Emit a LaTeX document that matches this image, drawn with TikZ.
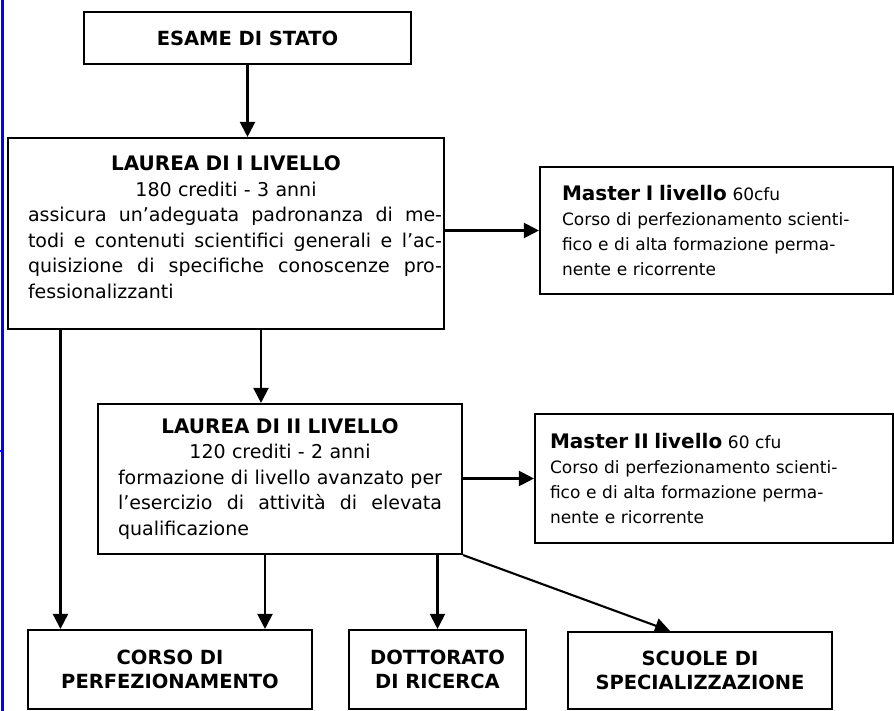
\documentclass[tikz,border=0pt]{standalone}
\usepackage{fontspec}
\setmainfont{DejaVu Sans}
\usepackage{tikz}
\usetikzlibrary{arrows.meta}
\newcommand{\sizebody}{\fontsize{19pt}{25.5pt}\selectfont}
\newcommand{\sizemaster}{\fontsize{17pt}{25pt}\selectfont}
\newcommand{\sizehead}{\fontsize{20pt}{25.5pt}\selectfont\bfseries}
\newcommand{\jline}[2]{{\spaceskip=\fontdimen2\font plus 1fil\relax\makebox[#1][s]{#2}}}
\tikzset{
    common/.style={draw, rectangle, line width=2.1pt, inner sep=0pt, font=\sizebody},
    block/.style={common, align=center, font=\fontsize{19.5pt}{25.5pt}\selectfont\bfseries},
    degree/.style={common, align=left},
    master/.style={common, align=left, font=\sizemaster},
    outcome/.style={common, align=center, font=\fontsize{19.5pt}{24pt}\selectfont\bfseries, minimum height=79pt},
    link/.style={line width=2.1pt, -{Triangle[length=15pt, width=15pt]}},
    margin/.style={draw=blue, line width=2.6pt}
}
\begin{document}
\begin{tikzpicture}[x=1pt, y=-1pt]
    \useasboundingbox (0,0) rectangle (894,711);
    \draw[margin] (2.6,0) -- (2.6,711) (0,451) -- (2.6,451);

    \node[block, minimum width=327pt, minimum height=52pt] (esame) at (247.5,38) {ESAME DI STATO};

    \node[degree, text width=432pt, inner xsep=2pt, minimum height=191pt] (laurea1) at (226,233.5) {%
        \makebox[\linewidth]{\sizehead LAUREA DI I LIVELLO}\\
        \makebox[\linewidth]{180 crediti - 3 anni}\\
        \hspace*{18pt}\jline{414pt}{assicura un’adeguata padronanza di me-}\\
        \hspace*{18pt}\jline{414pt}{todi e contenuti scientifici generali e l’ac-}\\
        \hspace*{18pt}\jline{414pt}{quisizione di specifiche conoscenze pro-}\\
        \hspace*{18pt}fessionalizzanti\rule[-13pt]{0pt}{13pt}};

    \node[master, text width=309pt, inner xsep=22pt, minimum height=127pt] (master1) at (716.5,230.5) {%
        {\sizehead Master I livello} 60cfu\\
        Corso di perfezionamento scienti-\\
        fico e di alta formazione perma-\\
        nente e ricorrente};

    \node[degree, text width=324pt, inner xsep=20pt, minimum height=150pt] (laurea2) at (280,479) {%
        \makebox[\linewidth]{\sizehead LAUREA DI II LIVELLO}\\
        \makebox[\linewidth]{120 crediti - 2 anni}\\
        \jline{\linewidth}{formazione di livello avanzato per}\\
        \jline{\linewidth}{l’esercizio di attività di elevata}\\
        qualificazione};

    \node[master, text width=328pt, inner xsep=15pt, minimum height=129pt] (master2) at (714,478.5) {%
        {\sizehead Master II livello} 60 cfu\\
        Corso di perfezionamento scienti-\\
        fico e di alta formazione perma-\\
        nente e ricorrente};

    \node[outcome, minimum width=284pt] (corso) at (170,669.5) {CORSO DI\\PERFEZIONAMENTO};
    \node[outcome, minimum width=177pt] (dottorato) at (437.5,669.5) {DOTTORATO\\DI RICERCA};
    \node[outcome, minimum width=264pt, minimum height=77pt] (scuole) at (700,670.5) {SCUOLE DI\\SPECIALIZZAZIONE};

    \draw[link] (esame.south) -- (esame.south |- laurea1.north);
    \draw[link] (laurea1.east |- master1.west) -- (master1.west);
    \draw[link] ([xshift=53.5pt]laurea1.south west) -- ([xshift=53.5pt]laurea1.south west |- corso.north);
    \draw[link] ([xshift=35pt]laurea1.south) -- ([xshift=35pt]laurea1.south |- laurea2.north);
    \draw[link] (laurea2.east |- master2.west) -- (master2.west);
    \draw[link] ([xshift=-15pt]laurea2.south) -- ([xshift=-15pt]laurea2.south |- corso.north);
    \draw[link] (dottorato.north |- laurea2.south) -- (dottorato.north);
    \draw[link] (laurea2.south east) -- ([xshift=-30pt]scuole.north);
\end{tikzpicture}
\end{document}
